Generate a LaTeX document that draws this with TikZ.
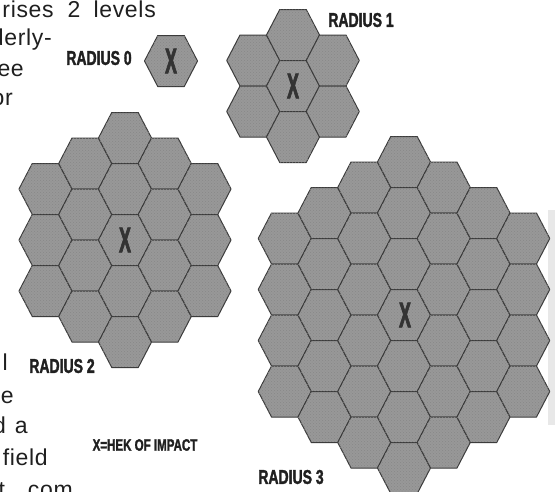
\documentclass[tikz,border=0pt]{standalone}
\usepackage{fontspec}
\setmainfont{Liberation Sans}
\newfontfamily\labelfont[FakeStretch=0.7, FakeBold=1.6]{Liberation Sans Bold}
\newfontfamily\markfont[FakeStretch=0.5, FakeBold=1.8]{Liberation Sans Bold}
\newfontfamily\bodyfont[LetterSpace=3]{Liberation Sans}
\usetikzlibrary{patterns}
\definecolor{hexgray}{RGB}{152, 152, 152}
\definecolor{hexline}{RGB}{58, 58, 58}
\definecolor{inkgray}{RGB}{32, 32, 32}

\tikzset{
  hexcell/.style={draw=hexline, line width=1pt, line join=round, fill=hexgray,
    postaction={pattern=crosshatch dots, pattern color=black!47}},
  radiuslabel/.style={text=inkgray, inner sep=0pt,
    font=\labelfont\fontsize{20}{20}\selectfont},
  impactmark/.style={text=black!80, inner sep=0pt,
    font=\markfont\fontsize{36}{36}\selectfont},
  bodytext/.style={text=black!88, inner sep=0pt, anchor=base east,
    font=\bodyfont\fontsize{23}{23}\selectfont}
}

% one flat-topped hex, centre at #1,#2 (pixel units)
\newcommand{\hexcell}[2]{%
  \draw[hexcell] (#1,#2) ++(-26.5,0) -- ++(13.25,-25.5) -- ++(26.5,0)
    -- ++(13.25,25.5) -- ++(-13.25,25.5) -- ++(-26.5,0) -- cycle;}

\begin{document}
\begin{tikzpicture}[x=1pt, y=-1pt]
  \useasboundingbox (0,0) rectangle (555,491);
  \clip (0,0) rectangle (555,491);
  \fill[white] (0,0) rectangle (555,491);
  % scanner shadow at the right edge
  \fill[black!9] (548,210) rectangle (555,425);

  % hex fields of radius 0..3
  \foreach \n/\cx/\cy in {0/171/61, 1/293/86, 2/125/240, 3/404/315} {
    \foreach \q in {-\n,...,\n} {
      \pgfmathtruncatemacro{\rlo}{max(-\n,-\q-\n)}
      \pgfmathtruncatemacro{\rhi}{min(\n,-\q+\n)}
      \foreach \r in {\rlo,...,\rhi} {
        \pgfmathsetmacro{\hx}{\cx+\q*39.75}
        \pgfmathsetmacro{\hy}{\cy+(\r+\q/2)*51}
        \hexcell{\hx}{\hy}
      }
    }
  }

  % hex of impact marks
  \node[impactmark] (mark0) at (171,61) {X};
  \node[impactmark] (mark1) at (293,86) {X};
  \node[impactmark] (mark2) at (125,240) {X};
  \node[impactmark] (mark3) at (405,315) {X};

  % labels
  \node[radiuslabel] (rad0) at (99,58) {RADIUS 0};
  \node[radiuslabel] (rad1) at (361,20) {RADIUS 1};
  \node[radiuslabel] (rad2) at (62,366) {RADIUS 2};
  \node[radiuslabel] (rad3) at (291,477) {RADIUS 3};
  \node[radiuslabel, font=\labelfont\fontsize{16.5}{16.5}\selectfont]
    (key) at (145,445) {X=HEK OF IMPACT};

  % cut-off column text on the left
  \node[bodytext] (txt1) at (156,17) {rises\hspace{14pt}2\hspace{13pt}levels};
  \node[bodytext] (txt2) at (52,45) {derly-};
  \node[bodytext] (txt3) at (24,76) {ee};
  \node[bodytext] (txt4) at (13,105) {or};
  \node[bodytext] (txt5) at (8,370) {l};
  \node[bodytext] (txt6) at (14,403) {ce};
  \node[bodytext] (txt7) at (28,433) {d\hspace{0.4em}a};
  \node[bodytext] (txt8) at (48,465) {field};
  \node[bodytext] (txt9) at (73,497) {t\hspace{1em}com};
\end{tikzpicture}
\end{document}
